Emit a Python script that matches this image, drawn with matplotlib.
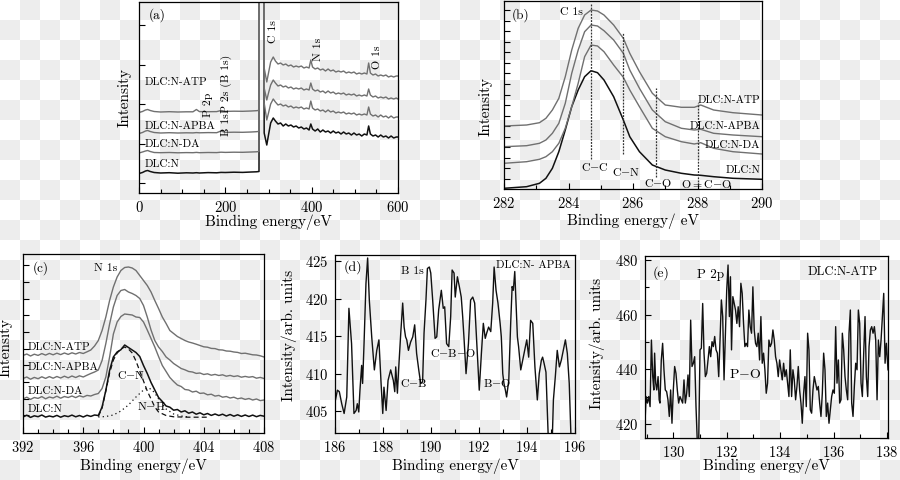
import numpy as np
import matplotlib
matplotlib.use("Agg")
import matplotlib.pyplot as plt
from matplotlib.ticker import MultipleLocator
from matplotlib.colors import ListedColormap

plt.rcParams['font.family'] = ['cmr10', 'DejaVu Serif']
plt.rcParams['mathtext.fontset'] = 'cm'
plt.rcParams['axes.formatter.use_mathtext'] = True
plt.rcParams['axes.unicode_minus'] = False

GRAY = '#707070'
BLACK = '#111111'

# ---------------- (a) survey spectra ----------------
a_x = [0, 8, 15, 20, 26, 35, 50, 70, 90, 110, 125, 133, 140, 160, 180, 190, 200, 220, 240, 260,
       272, 278, 281, 284, 290, 296, 300, 305, 311, 316, 322, 328, 334, 340, 346, 352, 358, 364,
       370, 376, 382, 388, 394, 398, 402, 408, 414, 420, 426, 432, 438, 444, 450, 456, 462, 468,
       474, 480, 486, 492, 498, 504, 510, 516, 522, 528, 532, 536, 542, 548, 554, 560, 566, 572,
       578, 584, 590, 596, 600]
a_n = [19.5, 20.5, 22, 22.5, 21.5, 20.5, 20, 20.3, 19.8, 20.2, 20, 20.3, 20, 20.4, 20.2, 20.6, 20.5,
       20.8, 20.6, 21, 21.2, 21.5, 1200, 1200, 60, 48, 58, 70, 75, 72, 69, 70, 67, 69, 67, 68, 66,
       67, 65, 66, 64, 65, 63, 69, 64, 62, 64, 61, 63, 61, 62, 60, 62, 60, 61, 59, 61, 59, 60, 58,
       60, 58, 59, 57, 59, 58, 67, 59, 57, 58, 56, 58, 56, 57, 55, 57, 55, 56, 56]
a_da = [40, 41, 42, 42.5, 41.5, 40.5, 40.3, 40.5, 40.2, 40.4, 40.3, 40.6, 40.3, 40.5, 40.4, 40.8,
        40.6, 40.8, 40.7, 41, 41.2, 41.5, 1200, 1200, 90, 73, 80, 89, 94, 91, 88, 89, 87, 88, 86,
        87, 85, 86, 85, 86, 84, 85, 84, 92, 85, 83, 84, 82, 83, 81, 83, 81, 82, 80, 81, 80, 81, 79,
        80, 79, 80, 78, 79, 78, 79, 78, 86, 79, 77, 78, 76, 78, 76, 77, 75, 77, 75, 76, 76]
a_apba = [59.5, 60.5, 62, 62.5, 61.5, 60.5, 60, 60.3, 60, 60.2, 60.1, 60.4, 60.2, 60.4, 60.3, 62,
          60.6, 60.8, 60.7, 61, 61.3, 61.6, 1200, 1200, 105, 93, 100, 108, 113, 110, 107, 108, 106,
          107, 105, 106, 104, 105, 104, 105, 103, 104, 103, 110, 104, 102, 103, 101, 102, 100, 102,
          100, 101, 99, 100, 99, 100, 98, 99, 98, 99, 97, 98, 97, 98, 97, 104, 98, 96, 97, 95, 96,
          95, 96, 94, 95, 94, 95, 94]
a_atp = [80.5, 81.5, 83, 83.5, 82.5, 81.5, 81, 81.3, 81, 81.2, 81.2, 83.5, 81.4, 81.3, 81.4, 82.5,
         81.6, 81.8, 81.7, 82, 82.3, 82.6, 1200, 1200, 125, 111, 120, 131, 136, 132, 129, 130, 128,
         129, 127, 128, 126, 127, 126, 127, 125, 126, 125, 133, 126, 124, 125, 123, 124, 122, 124,
         122, 123, 121, 122, 121, 122, 120, 121, 120, 121, 119, 120, 119, 120, 119, 130, 120, 118,
         119, 117, 118, 117, 118, 116, 117, 116, 117, 117]

# ---------------- (b) C 1s ----------------
b_x = [282.0, 282.7, 283.1, 283.3, 283.5, 283.7, 283.9, 284.1, 284.3, 284.5, 284.7, 284.9, 285.1,
       285.4, 285.7, 285.9, 286.2, 286.6, 287.0, 287.5, 287.9, 288.1, 288.5, 289.1, 290.0]
b_n = [0.7, 2.3, 5.7, 10.7, 20.7, 37.3, 59, 82.3, 99, 112.3, 118.3, 116.3, 109, 92.3, 69, 52.3,
       37.3, 24, 19, 15.7, 14, 13.7, 12.3, 10.7, 9.7]
b_da = [25.7, 27.3, 29.7, 32.3, 37.3, 45.7, 60.7, 82.3, 105.7, 132.3, 144, 143, 137.3, 124, 111.7,
        99, 82.3, 60.7, 52.3, 47.3, 45, 46.3, 40.7, 37.3, 35]
b_apba = [42.3, 43.3, 45.7, 49, 55.7, 65.7, 85.7, 115.7, 139, 157.3, 164, 163, 158.3, 149, 135.7,
          119, 100.7, 79, 67.3, 60.7, 59, 59.7, 55.7, 54, 52.3]
b_atp = [63, 64, 66.3, 70.7, 79, 90.7, 112.3, 139, 160.7, 174, 179, 178, 174, 164, 150.7, 135.7,
         117.3, 95.7, 84, 81.7, 81.7, 84, 79, 76.3, 74]
b_bond_pos = [284.7, 285.7, 286.7, 288.0]
b_bond_lo = [30, 35, 12, 4]
b_bond_hi = [186, 156, 101, 86]

# ---------------- (c) N 1s ----------------
c_x = np.arange(392.0, 408.01, 0.25)
c_n = [16.0, 17.8, 15.6, 17.2, 16.3, 18.0, 15.9, 17.0, 16.1, 17.6, 15.8, 17.3, 16.4, 17.9, 16.2,
       17.5, 16.0, 17.7, 16.6, 18.0, 17.5, 26.0, 42.7, 62.7, 76.0, 81.0, 83.3, 88.0, 85.5, 83.0,
       80.5, 76.5, 67.5, 59.5, 50.5, 43.0, 35.5, 31.5, 27.0, 25.8, 22.8, 23.5, 21.0, 22.2, 19.8,
       21.0, 18.8, 20.2, 18.2, 19.5, 17.6, 19.0, 17.5, 18.8, 17.0, 18.5, 16.8, 18.2, 16.6, 18.0,
       16.5, 17.9, 16.3, 17.6, 16.8]
c_da = [34.0, 35.8, 33.6, 35.5, 34.6, 36.4, 34.2, 36.0, 35.0, 36.8, 34.8, 36.5, 35.5, 37.0, 35.4,
        37.2, 36.0, 37.6, 37.0, 38.5, 39.5, 44.5, 56.0, 76.0, 99.0, 111.0, 116.5, 119.0, 118.5,
        118.0, 116.0, 115.5, 111.0, 103.0, 94.5, 86.0, 76.5, 67.5, 61.5, 55.5, 51.5, 48.0, 46.5,
        43.5, 43.0, 41.0, 41.8, 39.6, 40.0, 38.2, 38.8, 36.9, 37.6, 35.8, 36.5, 35.0, 35.8, 34.2,
        35.0, 33.6, 34.5, 33.0, 34.0, 32.4, 33.0]
c_apba = [54.5, 56.0, 53.8, 55.6, 54.3, 56.2, 54.6, 56.4, 54.8, 56.5, 55.0, 56.8, 55.2, 57.0, 55.5,
          57.2, 56.0, 57.8, 59.5, 61.0, 63.0, 72.5, 89.5, 109.0, 126.0, 137.5, 142.5, 143.5, 141.0,
          139.5, 137.5, 134.5, 127.5, 116.0, 103.0, 92.5, 86.0, 81.5, 76.0, 73.0, 69.5, 67.0, 64.5,
          63.2, 61.5, 61.0, 59.6, 60.0, 58.5, 59.2, 57.8, 58.6, 57.5, 58.2, 56.8, 57.6, 56.5, 57.2,
          55.8, 56.6, 55.8, 56.4, 54.8, 55.6, 54.5]
c_atp = [77.5, 79.0, 77.0, 78.8, 77.6, 79.4, 77.9, 79.6, 78.2, 79.8, 78.4, 80.0, 78.6, 80.2, 79.0,
         80.5, 79.5, 81.2, 83.0, 87.0, 92.5, 102.5, 116.0, 132.5, 146.0, 156.0, 162.5, 165.5, 166.0,
         165.0, 162.5, 157.5, 152.5, 147.5, 141.0, 132.5, 124.5, 116.0, 109.5, 102.5, 99.5, 96.5,
         94.5, 92.5, 91.0, 90.0, 88.8, 87.5, 86.2, 85.8, 84.6, 84.4, 83.2, 83.0, 82.0, 81.8, 81.0,
         80.6, 79.5, 79.8, 79.0, 78.2, 78.0, 77.2, 76.0]
c_cn_x = [397.0, 397.25, 397.5, 397.75, 398.0, 398.25, 398.5, 398.75, 399.0, 399.25, 399.5, 399.75,
          400.0, 400.25, 400.5, 400.75, 401.0, 401.5, 402.0, 403.0, 404.2]
c_cn = [16.5, 25, 42, 60, 73, 80, 84, 86, 84, 80, 72, 62, 52, 42, 34, 26, 21, 17.5, 16.2, 15.8, 15.8]
c_nh_x = [397.0, 397.5, 398.0, 398.5, 399.0, 399.5, 400.0, 400.25, 400.5, 400.75, 401.0, 401.5,
          402.0, 402.5, 403.0]
c_nh = [16, 16.5, 18, 22, 28, 36, 43, 45, 44, 40, 34, 24, 19, 17, 16]

# ---------------- (d) B 1s, DLC:N-APBA ----------------
d_x = [186.00, 186.10, 186.18, 186.28, 186.38, 186.49, 186.58, 186.69, 186.79, 186.88, 186.93,
       186.99, 187.04, 187.11, 187.15, 187.21, 187.29, 187.36, 187.43, 187.53, 187.64, 187.74,
       187.83, 187.92, 187.99, 188.04, 188.13, 188.21, 188.32, 188.43, 188.49, 188.53, 188.60,
       188.65, 188.74, 188.82, 188.88, 188.94, 188.99, 189.06, 189.15, 189.24, 189.32, 189.40,
       189.49, 189.57, 189.65, 189.71, 189.79, 189.85, 189.93, 189.99, 190.07, 190.17, 190.24,
       190.32, 190.43, 190.51, 190.57, 190.65, 190.74, 190.82, 190.88, 190.96, 191.01, 191.10,
       191.18, 191.26, 191.32, 191.38, 191.46, 191.56, 191.65, 191.74, 191.82, 191.90, 192.01,
       192.10, 192.18, 192.26, 192.32, 192.40, 192.49, 192.57, 192.63, 192.71, 192.79, 192.88,
       192.93, 192.99, 193.04, 193.10, 193.15, 193.24, 193.32, 193.38, 193.43, 193.49, 193.54,
       193.60, 193.65, 193.74, 193.82, 193.90, 193.99, 194.07, 194.15, 194.24, 194.33, 194.43,
       194.51, 194.60, 194.65, 194.71, 194.79, 194.88, 194.93, 195.04, 195.10, 195.18, 195.26,
       195.35, 195.43, 195.51, 195.60, 195.68, 195.76, 195.85, 195.93]
d_y = [406.2, 407.8, 407.6, 406.0, 404.7, 406.9, 418.7, 414.0, 404.7, 405.1, 406.0, 404.9, 407.8,
       411.1, 408.7, 414.0, 422.0, 425.4, 419.8, 414.9, 410.5, 413.1, 414.5, 408.7, 404.7, 408.2,
       405.1, 409.1, 410.5, 409.1, 407.6, 410.9, 407.4, 410.5, 415.4, 419.4, 416.2, 414.9, 414.5,
       413.1, 414.2, 414.9, 416.5, 412.7, 410.5, 408.7, 408.9, 415.4, 419.8, 424.0, 424.2, 423.4,
       419.8, 414.7, 414.9, 418.5, 421.1, 418.7, 418.9, 414.0, 413.6, 417.6, 423.8, 423.4, 420.2,
       422.9, 421.6, 420.2, 417.6, 414.5, 410.0, 414.0, 419.8, 420.2, 419.4, 414.5, 407.8, 412.7,
       416.7, 414.7, 415.4, 416.2, 415.6, 419.4, 424.2, 421.1, 419.4, 416.7, 414.9, 410.0, 408.7,
       407.8, 406.9, 409.1, 416.7, 421.6, 421.1, 423.6, 419.8, 414.9, 413.6, 410.5, 411.8, 413.1,
       414.5, 412.2, 417.1, 416.7, 410.9, 406.5, 410.0, 411.8, 412.2, 411.4, 410.2, 402.0, 399.8,
       399.8, 406.5, 409.6, 413.1, 410.9, 411.8, 413.1, 414.5, 412.7, 408.7, 399.8, 399.8]

# ---------------- (e) P 2p, DLC:N-ATP ----------------
e_x = [128.94, 128.98, 129.03, 129.08, 129.13, 129.18, 129.23, 129.27, 129.30, 129.34, 129.38,
       129.43, 129.47, 129.50, 129.55, 129.60, 129.65, 129.70, 129.75, 129.80, 129.85, 129.90,
       129.95, 130.00, 130.05, 130.10, 130.15, 130.20, 130.25, 130.30, 130.35, 130.40, 130.45,
       130.50, 130.55, 130.60, 130.65, 130.70, 130.75, 130.80, 130.85, 130.90, 130.95, 131.00,
       131.05, 131.10, 131.15, 131.20, 131.25, 131.30, 131.35, 131.40, 131.45, 131.50, 131.55,
       131.60, 131.65, 131.70, 131.75, 131.80, 131.85, 131.90, 131.95, 132.00, 132.05, 132.10,
       132.14, 132.18, 132.23, 132.28, 132.33, 132.38, 132.43, 132.48, 132.53, 132.58, 132.63,
       132.68, 132.73, 132.78, 132.83, 132.88, 132.93, 132.98, 133.03, 133.08, 133.13, 133.18,
       133.23, 133.28, 133.33, 133.38, 133.43, 133.48, 133.53, 133.58, 133.63, 133.68, 133.73,
       133.78, 133.83, 133.88, 133.93, 133.98, 134.03, 134.08, 134.13, 134.18, 134.23, 134.28,
       134.33, 134.38, 134.43, 134.48, 134.53, 134.58, 134.63, 134.68, 134.73, 134.78, 134.83,
       134.88, 134.93, 134.98, 135.03, 135.08, 135.13, 135.18, 135.23, 135.28, 135.33, 135.38,
       135.43, 135.48, 135.53, 135.58, 135.63, 135.68, 135.73, 135.78, 135.83, 135.88, 135.93,
       135.98, 136.03, 136.08, 136.13, 136.18, 136.23, 136.28, 136.33, 136.38, 136.43, 136.48,
       136.53, 136.58, 136.63, 136.68, 136.73, 136.78, 136.83, 136.88, 136.93, 136.98, 137.03,
       137.08, 137.13, 137.18, 137.23, 137.28, 137.33, 137.38, 137.43, 137.48, 137.53, 137.58,
       137.63, 137.68, 137.73, 137.78, 137.83, 137.88, 137.93, 137.98, 138.04]
e_y = [420.2, 430.0, 427.6, 430.0, 426.3, 450.7, 437.3, 432.4, 445.9, 434.9, 432.4, 437.3, 428.8,
       427.6, 443.4, 449.5, 439.8, 432.4, 431.8, 428.8, 422.7, 432.4, 420.2, 432.4, 441.0, 438.5,
       432.4, 427.6, 430.0, 428.8, 427.6, 436.1, 427.6, 431.2, 437.9, 430.0, 458.0, 441.0, 442.2,
       444.6, 426.3, 412.9, 412.9, 447.1, 447.7, 464.1, 445.9, 437.3, 438.5, 443.4, 448.3, 444.6,
       450.1, 448.3, 452.0, 447.1, 445.9, 437.3, 450.7, 465.4, 459.3, 436.1, 453.2, 469.0, 478.2,
       459.3, 473.9, 447.1, 466.6, 464.1, 461.7, 456.8, 462.9, 455.6, 471.5, 467.8, 456.8, 448.3,
       449.5, 448.3, 461.7, 455.6, 453.2, 470.2, 454.4, 449.5, 448.3, 453.2, 443.4, 459.3, 442.2,
       445.9, 439.8, 431.2, 434.9, 450.7, 448.3, 449.5, 454.4, 450.7, 444.6, 442.2, 437.3, 443.4,
       439.8, 436.1, 442.2, 437.3, 439.8, 434.9, 430.0, 447.1, 430.0, 439.8, 436.1, 428.8, 433.7,
       441.0, 432.4, 427.6, 420.2, 431.2, 437.3, 426.3, 453.2, 447.1, 425.1, 423.9, 432.4, 437.3,
       434.9, 432.4, 433.7, 427.6, 422.7, 431.2, 445.9, 439.8, 422.7, 427.6, 420.2, 425.1, 430.0,
       432.4, 431.2, 455.6, 434.9, 443.4, 427.6, 428.8, 453.2, 447.1, 437.3, 432.4, 428.8, 453.2,
       461.7, 427.6, 422.7, 433.7, 442.2, 439.8, 461.7, 456.8, 434.9, 430.0, 445.9, 459.3, 437.3,
       430.0, 448.3, 454.4, 455.6, 453.2, 455.6, 450.7, 428.8, 450.7, 444.6, 450.7, 459.3, 467.8,
       442.2, 449.5, 439.8]

sample_labels = ['DLC:N-ATP', 'DLC:N-APBA', 'DLC:N-DA', 'DLC:N']


def style_axes(ax, xmaj, xmin):
    ax.set_facecolor('none')
    ax.xaxis.set_major_locator(MultipleLocator(xmaj))
    ax.xaxis.set_minor_locator(MultipleLocator(xmin))
    ax.tick_params(which='both', direction='in', top=False, right=False, labelsize=10.5,
                   width=0.8, pad=5)
    ax.tick_params(which='major', length=4)
    ax.tick_params(which='minor', length=3)
    for s in ax.spines.values():
        s.set_linewidth(0.9)


fig = plt.figure(figsize=(9, 4.8), dpi=100)

# faint checkerboard backdrop, as in the source picture
bg = fig.add_axes([0, 0, 1, 1], zorder=-10)
board = np.add.outer(np.arange(24), np.arange(45)) % 2
bg.imshow(board, cmap=ListedColormap(['#ffffff', '#ededed']), aspect='auto',
          interpolation='nearest', extent=[0, 900, 480, 0])
bg.axis('off')

# ---- (a) ----
ax = fig.add_axes([139 / 900, 287 / 480, 259 / 900, 191 / 480])
style_axes(ax, 200, 50)
ax.plot(a_x, a_n, color=BLACK, lw=1.1)
ax.plot(a_x, a_da, color=GRAY, lw=1.0)
ax.plot(a_x, a_apba, color=GRAY, lw=1.0)
ax.plot(a_x, a_atp, color=GRAY, lw=1.0)
ax.set_xlim(0, 600)
ax.set_ylim(0, 191)
ax.set_yticks(np.arange(10, 180, 39.5))
ax.set_yticklabels([])
ax.set_xlabel('Binding energy/eV', fontsize=11)
ax.xaxis.set_label_coords(0.5, -0.11)
ax.set_ylabel('Intensity', fontsize=11)
ax.yaxis.set_label_coords(-0.03, 0.5)
ax.text(42, 178, '(a)', fontsize=9.5, ha='center', va='center')
for lab, yy in zip(sample_labels, [111, 67, 49, 29]):
    ax.text(14, yy, lab, fontsize=8, ha='left', va='center')
for lab, xx, yy in [('P 2p', 160, 88.5), ('B 1s', 203, 68), ('P 2s (B 1s)', 203, 109),
                    ('C 1s', 311, 161), ('N 1s', 415, 144), ('O 1s', 551, 135.5)]:
    ax.text(xx, yy, lab, fontsize=8.5, rotation=90, ha='center', va='center')

# ---- (b) ----
ax = fig.add_axes([504 / 900, 291 / 480, 258 / 900, 188 / 480])
style_axes(ax, 2, 1)
ax.plot(b_x, b_n, color=BLACK, lw=1.1)
ax.plot(b_x, b_da, color=GRAY, lw=1.0)
ax.plot(b_x, b_apba, color=GRAY, lw=1.0)
ax.plot(b_x, b_atp, color=GRAY, lw=1.0)
ax.vlines(b_bond_pos, b_bond_lo, b_bond_hi, colors='#333333', linestyles=(0, (1.5, 1)), lw=0.9)
ax.set_xlim(282, 290)
ax.set_ylim(0, 188)
ax.set_yticks(np.arange(10, 185, 10.56))
ax.set_yticklabels([])
ax.set_xlabel('Binding energy/ eV', fontsize=11)
ax.xaxis.set_label_coords(0.5, -0.13)
ax.set_ylabel('Intensity', fontsize=11)
ax.yaxis.set_label_coords(-0.043, 0.44)
ax.text(282.5, 174, '(b)', fontsize=9.5, ha='center', va='center')
ax.text(284.45, 177, 'C 1s', fontsize=8.5, ha='right', va='center')
for lab, xx, yy in [('C$-$C', 284.83, 22), ('C$-$N', 285.79, 17), ('C$-$O', 286.78, 6),
                    ('O$=$C$-$O', 288.26, 5)]:
    ax.text(xx, yy, lab, fontsize=8.5, ha='center', va='center')
for lab, yy in zip(sample_labels, [88.3, 63, 43.3, 19]):
    ax.text(289.95, yy, lab, fontsize=8, ha='right', va='center')

# ---- (c) ----
ax = fig.add_axes([23 / 900, 47 / 480, 241 / 900, 179 / 480])
style_axes(ax, 4, 1)
ax.plot(c_x, c_n, color=BLACK, lw=1.1)
ax.plot(c_x, c_da, color=GRAY, lw=1.0)
ax.plot(c_x, c_apba, color=GRAY, lw=1.0)
ax.plot(c_x, c_atp, color=GRAY, lw=1.0)
ax.plot(c_cn_x, c_cn, color=BLACK, lw=0.9, ls=(0, (4, 2.5)))
ax.plot(c_nh_x, c_nh, color=BLACK, lw=0.9, ls=(0, (1, 2.5)))
ax.set_xlim(392, 408)
ax.set_ylim(0, 179)
ax.set_yticks(np.arange(17.7, 170, 16.67))
ax.set_yticklabels([])
ax.set_xlabel('Binding energy/eV', fontsize=11)
ax.xaxis.set_label_coords(0.5, -0.145)
ax.set_ylabel('Intensity', fontsize=11)
ax.yaxis.set_label_coords(-0.041, 0.475)
ax.text(393.2, 165, '(c)', fontsize=9.5, ha='center', va='center')
ax.text(397.5, 165, 'N 1s', fontsize=8.5, ha='center', va='center')
for lab, yy in zip(sample_labels, [86, 66, 42, 24]):
    ax.text(392.33, yy, lab, fontsize=8, ha='left', va='center')
ax.text(399.2, 58, 'C$-$N', fontsize=8.5, ha='center', va='center')
ax.text(400.53, 27, 'N$-$H', fontsize=8.5, ha='center', va='center')

# ---- (d) ----
ax = fig.add_axes([335 / 900, 47 / 480, 240 / 900, 178 / 480])
style_axes(ax, 2, 1)
ax.plot(d_x, d_y, color=BLACK, lw=1.0)
ax.set_xlim(186, 196)
ax.set_ylim(402.1, 425.8)
ax.yaxis.set_major_locator(MultipleLocator(5))
ax.set_xlabel('Binding energy/eV', fontsize=11)
ax.xaxis.set_label_coords(0.5, -0.146)
ax.set_ylabel('Intensity/arb. units', fontsize=11)
ax.yaxis.set_label_coords(-0.16, 0.55)
ax.text(186.73, 424.2, '(d)', fontsize=10, ha='center', va='center')
ax.text(189.23, 423.6, 'B 1s', fontsize=8.5, ha='center', va='center')
ax.text(195.8, 424.5, 'DLC:N- APBA', fontsize=8, ha='right', va='center')
ax.text(190.93, 412.8, 'C$-$B$-$O', fontsize=8.5, ha='center', va='center')
ax.text(189.26, 408.7, 'C$-$B', fontsize=8.5, ha='center', va='center')
ax.text(192.74, 408.7, 'B$-$O', fontsize=8.5, ha='center', va='center')

# ---- (e) ----
ax = fig.add_axes([645 / 900, 42 / 480, 243 / 900, 182 / 480])
style_axes(ax, 2, 1)
ax.plot(e_x, e_y, color=BLACK, lw=1.0)
ax.set_xlim(128.94, 138.04)
ax.set_ylim(414.8, 481.5)
ax.yaxis.set_major_locator(MultipleLocator(20))
ax.yaxis.set_minor_locator(MultipleLocator(10))
ax.set_xlabel('Binding energy/eV', fontsize=11)
ax.xaxis.set_label_coords(0.5, -0.115)
ax.set_ylabel('Intensity/arb. units', fontsize=11)
ax.yaxis.set_label_coords(-0.165, 0.52)
ax.text(129.54, 475.1, '(e)', fontsize=10, ha='center', va='center')
ax.text(131.38, 474.5, 'P 2p', fontsize=9.5, ha='center', va='center')
ax.text(136.35, 475.7, 'DLC:N-ATP', fontsize=9, ha='center', va='center')
ax.text(132.69, 437.9, 'P$-$O', fontsize=10, ha='center', va='center')

fig.savefig('out.png', dpi=100)
